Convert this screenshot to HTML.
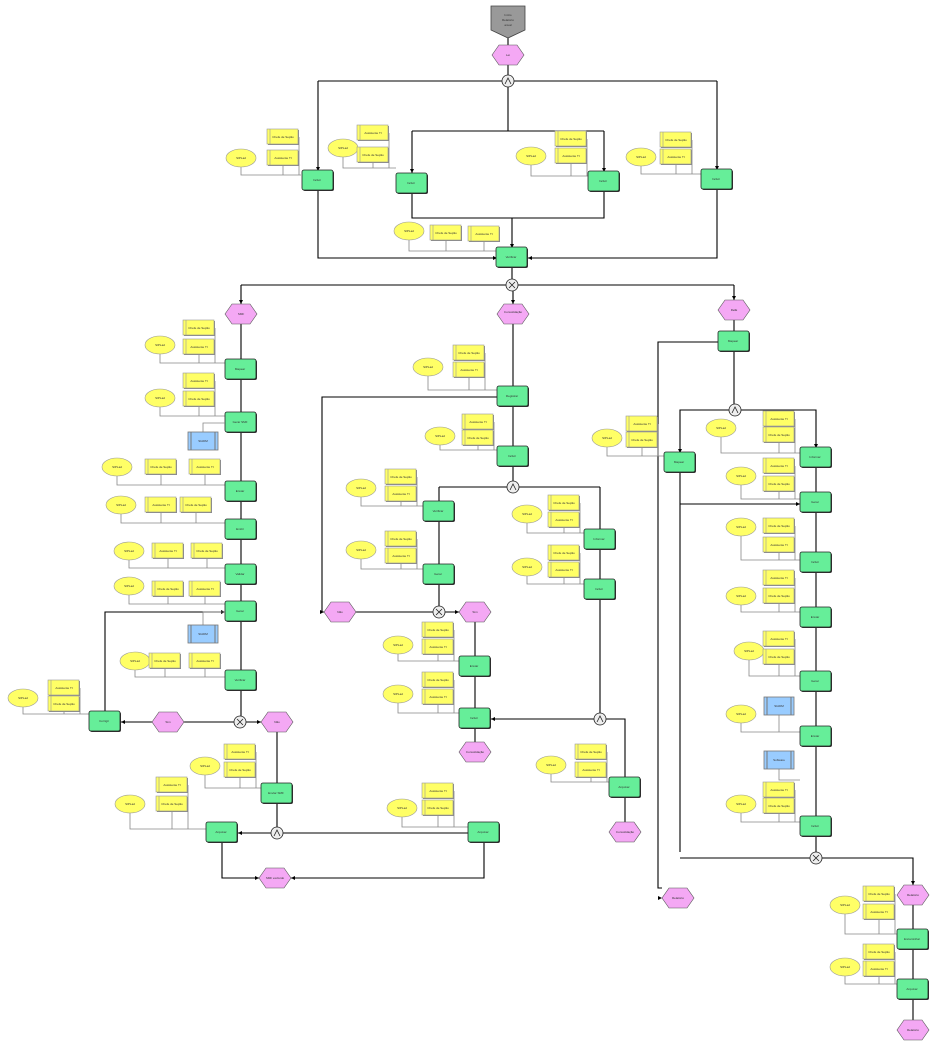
<!DOCTYPE html>
<html><head><meta charset="utf-8"><style>
html,body{margin:0;padding:0;background:#fff;width:939px;height:1049px;overflow:hidden}
svg{display:block}
text{font-family:"Liberation Sans",sans-serif;font-size:3px;fill:#333;text-anchor:middle}
</style></head><body>
<svg width="939" height="1049" viewBox="0 0 939 1049" xmlns="http://www.w3.org/2000/svg">
<defs>
<g id="fn"><rect x="-15" y="-10" width="31" height="20" rx="2" fill="#333"/><rect x="-16" y="-11" width="31" height="20" rx="2" fill="#66ee99" stroke="#222" stroke-width="0.8"/></g>
<g id="ev"><polygon points="-16,0 -9,-10 9,-10 16,0 9,10 -9,10" fill="#f4a8f4" stroke="#555" stroke-width="0.6"/></g>
<g id="ov"><ellipse cx="0" cy="0" rx="15" ry="9" fill="#ffff66" stroke="#999" stroke-width="0.6"/></g>
<g id="dc"><rect x="-15" y="-7" width="31" height="15" fill="#888"/><rect x="-16" y="-8" width="31" height="15" fill="#ffff66" stroke="#999" stroke-width="0.6"/><line x1="-13" y1="-8" x2="-13" y2="7" stroke="#999" stroke-width="0.6"/></g>
<g id="bl"><rect x="-15" y="-9" width="30" height="18" fill="#99ccff" stroke="#777" stroke-width="0.8"/><line x1="-12" y1="-9" x2="-12" y2="9" stroke="#777"/><line x1="12" y1="-9" x2="12" y2="9" stroke="#777"/></g>
<g id="and"><circle r="6" fill="#eee" stroke="#222" stroke-width="0.8"/><path d="M-3,3 L0,-3 L3,3" fill="none" stroke="#222" stroke-width="0.8"/></g>
<g id="xor"><circle r="6" fill="#eee" stroke="#222" stroke-width="0.8"/><path d="M-3,-3 L3,3 M3,-3 L-3,3" fill="none" stroke="#222" stroke-width="0.8"/></g>
</defs>

<!-- control flow -->
<g fill="none" stroke="#000" stroke-width="1.1">
<path d="M508,33 V45 M508,65 V75 M318,81 H717 M318,81 V171 M717,81 V170 M508,87 V131 M412,131 H604 M412,131 V173 M604,131 V172 M412,194 V218 H604 V192 M512,218 V248 M318,191 V258 H497 M717,190 V258 H528 M512,268 V279"/>
<path d="M241,285 H734 M241,285 V304 M513,291 V304 M734,285 V300"/>
<!-- left -->
<path d="M241,324 V360 M241,380 V413 M241,433 V482 M241,502 V520 M241,540 V565 M241,585 V602 M241,622 V671 M241,691 V716 M234,722 H184 M152,722 H121 M246,722 H261 M105,712 V612 H225 M277,732 V784 M277,804 V827 M271,833 H238 M283,833 H468 M222,843 V878 H259 M484,843 V878 H291"/>
<!-- middle -->
<path d="M513,324 V387 M513,407 V447 M513,467 V481 M439,487 H600 M439,487 V502 M600,487 V530 M439,522 V565 M439,585 V606 M433,612 H356 M445,612 H459 M497,397 H322 V612 H324 M475,622 V657 M475,677 V709 M475,729 V742 M600,550 V580 M600,600 V713 M594,719 H491 M606,719 H625 V778 M625,798 V822"/>
<!-- right -->
<path d="M734,320 V332 M734,352 V404 M729,410 H680 V453 M741,410 H816 V448 M718,342 H658 V888 H662 M680,473 V852 M680,504 H800 M816,468 V493 M816,513 V553 M816,573 V608 M816,628 V672 M816,692 V727 M816,747 V817 M816,837 V852 M680,858 H810 M822,858 H913 V885 M913,905 V930 M913,950 V980 M913,1000 V1020"/>
</g>
<!-- arrowheads (small) -->
<g fill="#000">
<path d="M318,171 l-2,-4 h4z M717,170 l-2,-4 h4z M412,173 l-2,-4 h4z M604,172 l-2,-4 h4z M512,248 l-2,-4 h4z M497,258 l-4,-2 v4z M528,258 l4,-2 v4z M241,304 l-2,-4 h4z M513,304 l-2,-4 h4z M734,300 l-2,-4 h4z M121,722 l4,-2 v4z M261,722 l-4,-2 v4z M238,833 l4,-2 v4z M259,878 l-4,-2 v4z M291,878 l4,-2 v4z M225,612 l-4,-2 v4z M324,612 l-4,-2 v4z M459,612 l-4,-2 v4z M491,719 l4,-2 v4z M662,898 l-4,-2 v4z M800,504 l-4,-2 v4z M680,453 l-2,-4 h4z M816,448 l-2,-4 h4z M913,885 l-2,-4 h4z"/>
</g>

<!-- resource links -->
<g fill="none" stroke="#888" stroke-width="0.8">
<path d="M241,167 V175 H301 M283,166 V175 M299,137 V175"/>
<path d="M343,157 V168 H396 M373,163 V168 M389,133 V168"/>
<path d="M531,165 V176 H588 M571,164 V176 M587,139 V176"/>
<path d="M641,166 V174 H701 M676,165 V174 M692,140 V174"/>
<path d="M409,240 V251 H496 M446,241 V251 M484,242 V251"/>
<path d="M160,354 V363 H225 M199,355 V363 M215,328 V363"/>
<path d="M160,407 V416 H225 M199,407 V416 M215,381 V416"/>
<path d="M117,476 V485 H225 M161,475 V485 M205,475 V485"/>
<path d="M121,514 V523 H225 M161,513 V523 M196,513 V523"/>
<path d="M129,560 V568 H225 M168,559 V568 M207,559 V568"/>
<path d="M129,595 V604 H225 M168,597 V604 M205,597 V604"/>
<path d="M135,670 V677 H225 M165,669 V677 M205,669 V677"/>
<path d="M23,707 V714 H89 M64,712 V714 M80,688 V714"/>
<path d="M205,775 V788 H261 M240,778 V788 M256,752 V788"/>
<path d="M130,813 V829 H206 M172,812 V829 M188,785 V829"/>
<path d="M402,817 V827 H468 M438,816 V827 M454,791 V827"/>
<path d="M428,376 V390 H497 M469,378 V390 M485,353 V390"/>
<path d="M440,445 V450 H497 M478,446 V450 M494,422 V450"/>
<path d="M361,497 V506 H423 M401,502 V506 M417,477 V506"/>
<path d="M361,559 V569 H423 M401,564 V569 M417,539 V569"/>
<path d="M398,654 V661 H459 M438,655 V661 M454,630 V661"/>
<path d="M398,703 V713 H459 M438,705 V713 M454,680 V713"/>
<path d="M527,523 V533 H584 M564,528 V533 M580,503 V533"/>
<path d="M527,576 V584 H584 M564,578 V584 M580,553 V584"/>
<path d="M551,774 V782 H609 M591,778 V782 M607,752 V782"/>
<path d="M607,447 V456 H664 M642,448 V456 M658,424 V456"/>
<path d="M721,437 V453 H800 M779,443 V453 M795,419 V453"/>
<path d="M741,485 V499 H800 M779,492 V499 M795,466 V499"/>
<path d="M741,536 V560 H800 M779,553 V560 M795,526 V560"/>
<path d="M741,605 V612 H800 M779,604 V612 M795,578 V612"/>
<path d="M749,660 V676 H800 M779,665 V676 M795,639 V676"/>
<path d="M741,723 V732 H800 M779,715 V732"/>
<path d="M779,769 V780 H800"/>
<path d="M741,813 V822 H800 M779,814 V822 M795,790 V822"/>
<path d="M845,914 V934 H897 M879,920 V934 M895,894 V934"/>
<path d="M845,976 V984 H897 M879,977 V984 M895,952 V984"/>
</g>

<!-- start -->
<polygon points="491,6 525,6 525,30 508,38 491,30" fill="#999" stroke="#444" stroke-width="0.8"/>
<text x="508" y="16">Início</text><text x="508" y="21">Relatório</text><text x="508" y="26">anual</text>

<!-- connectors -->
<use href="#and" x="508" y="81"/>
<use href="#xor" x="512" y="285"/>
<use href="#xor" x="240" y="722"/>
<use href="#and" x="277" y="833"/>
<use href="#and" x="513" y="487"/>
<use href="#xor" x="439" y="612"/>
<use href="#and" x="600" y="719"/>
<use href="#and" x="735" y="410"/>
<use href="#xor" x="816" y="858"/>

<!-- events -->
<g>
<use href="#ev" x="508" y="55"/><text x="508" y="56">Lei</text>
<use href="#ev" x="241" y="314"/><text x="241" y="315">SMF</text>
<use href="#ev" x="513" y="314"/><text x="513" y="313">Consolidação</text>
<use href="#ev" x="734" y="310"/><text x="734" y="311">RelE</text>
<use href="#ev" x="277" y="722"/><text x="277" y="723">Não</text>
<use href="#ev" x="168" y="722"/><text x="168" y="723">Sim</text>
<use href="#ev" x="275" y="878"/><text x="275" y="879">SMF excluído</text>
<use href="#ev" x="340" y="612"/><text x="340" y="613">Não</text>
<use href="#ev" x="475" y="612"/><text x="475" y="613">Sim</text>
<use href="#ev" x="475" y="752"/><text x="475" y="753">Consolidação</text>
<use href="#ev" x="625" y="832"/><text x="625" y="833">Consolidação</text>
<use href="#ev" x="678" y="898"/><text x="678" y="899">Relatório</text>
<use href="#ev" x="913" y="895"/><text x="913" y="896">Relatório</text>
<use href="#ev" x="913" y="1030"/><text x="913" y="1031">Relatório</text>
</g>

<!-- functions -->
<g>
<use href="#fn" x="318" y="181"/><use href="#fn" x="412" y="184"/><use href="#fn" x="604" y="182"/><use href="#fn" x="717" y="180"/><use href="#fn" x="512" y="258"/>
<use href="#fn" x="241" y="370"/><use href="#fn" x="241" y="423"/><use href="#fn" x="241" y="492"/><use href="#fn" x="241" y="530"/><use href="#fn" x="241" y="575"/><use href="#fn" x="241" y="612"/><use href="#fn" x="241" y="681"/><use href="#fn" x="105" y="722"/><use href="#fn" x="277" y="794"/><use href="#fn" x="222" y="833"/><use href="#fn" x="484" y="833"/>
<use href="#fn" x="513" y="397"/><use href="#fn" x="513" y="457"/><use href="#fn" x="439" y="512"/><use href="#fn" x="439" y="575"/><use href="#fn" x="475" y="667"/><use href="#fn" x="475" y="719"/><use href="#fn" x="600" y="540"/><use href="#fn" x="600" y="590"/><use href="#fn" x="625" y="788"/>
<use href="#fn" x="734" y="342"/><use href="#fn" x="680" y="463"/><use href="#fn" x="816" y="458"/><use href="#fn" x="816" y="503"/><use href="#fn" x="816" y="563"/><use href="#fn" x="816" y="618"/><use href="#fn" x="816" y="682"/><use href="#fn" x="816" y="737"/><use href="#fn" x="816" y="827"/><use href="#fn" x="913" y="940"/><use href="#fn" x="913" y="990"/>
</g>
<g>
<text x="317" y="181">Incluir</text><text x="411" y="184">Incluir</text><text x="603" y="182">Incluir</text><text x="716" y="180">Incluir</text><text x="511" y="258">Verificar</text>
<text x="240" y="370">Mapear</text><text x="240" y="423">Gerar SMF</text><text x="240" y="492">Enviar</text><text x="240" y="530">Emitir</text><text x="240" y="575">Validar</text><text x="240" y="612">Gerar</text><text x="240" y="681">Verificar</text><text x="104" y="722">Corrigir</text><text x="276" y="794">Enviar SMF</text><text x="221" y="833">Arquivar</text><text x="483" y="833">Arquivar</text>
<text x="512" y="397">Registrar</text><text x="512" y="457">Incluir</text><text x="438" y="512">Verificar</text><text x="438" y="575">Gerar</text><text x="474" y="667">Enviar</text><text x="474" y="719">Incluir</text><text x="599" y="540">Informar</text><text x="599" y="590">Incluir</text><text x="624" y="788">Arquivar</text>
<text x="733" y="342">Mapear</text><text x="679" y="463">Mapear</text><text x="815" y="458">Informar</text><text x="815" y="503">Gerar</text><text x="815" y="563">Incluir</text><text x="815" y="618">Enviar</text><text x="815" y="682">Gerar</text><text x="815" y="737">Enviar</text><text x="815" y="827">Incluir</text><text x="912" y="940">Encaminhar</text><text x="912" y="990">Arquivar</text>
</g>

<!-- ovals -->
<g>
<use href="#ov" x="241" y="158"/><use href="#ov" x="343" y="148"/><use href="#ov" x="531" y="156"/><use href="#ov" x="641" y="157"/><use href="#ov" x="409" y="231"/>
<use href="#ov" x="160" y="345"/><use href="#ov" x="160" y="398"/><use href="#ov" x="117" y="467"/><use href="#ov" x="121" y="505"/><use href="#ov" x="129" y="551"/><use href="#ov" x="129" y="586"/><use href="#ov" x="135" y="661"/><use href="#ov" x="23" y="698"/><use href="#ov" x="205" y="766"/><use href="#ov" x="130" y="804"/><use href="#ov" x="402" y="808"/>
<use href="#ov" x="428" y="367"/><use href="#ov" x="440" y="436"/><use href="#ov" x="361" y="488"/><use href="#ov" x="361" y="550"/><use href="#ov" x="398" y="645"/><use href="#ov" x="398" y="694"/><use href="#ov" x="527" y="514"/><use href="#ov" x="527" y="567"/><use href="#ov" x="551" y="765"/>
<use href="#ov" x="607" y="438"/><use href="#ov" x="721" y="428"/><use href="#ov" x="741" y="476"/><use href="#ov" x="741" y="527"/><use href="#ov" x="741" y="596"/><use href="#ov" x="749" y="651"/><use href="#ov" x="741" y="714"/><use href="#ov" x="741" y="804"/><use href="#ov" x="845" y="905"/><use href="#ov" x="845" y="967"/>
</g>
<g>
<text x="241" y="159">SIPLad</text><text x="343" y="149">SIPLad</text><text x="531" y="157">SIPLad</text><text x="641" y="158">SIPLad</text><text x="409" y="232">SIPLad</text>
<text x="160" y="346">SIPLad</text><text x="160" y="399">SIPLad</text><text x="117" y="468">SIPLad</text><text x="121" y="506">SIPLad</text><text x="129" y="552">SIPLad</text><text x="129" y="587">SIPLad</text><text x="135" y="662">SIPLad</text><text x="23" y="699">SIPLad</text><text x="205" y="767">SIPLad</text><text x="130" y="805">SIPLad</text><text x="402" y="809">SIPLad</text>
<text x="428" y="368">SIPLad</text><text x="440" y="437">SIPLad</text><text x="361" y="489">SIPLad</text><text x="361" y="551">SIPLad</text><text x="398" y="646">SIPLad</text><text x="398" y="695">SIPLad</text><text x="527" y="515">SIPLad</text><text x="527" y="568">SIPLad</text><text x="551" y="766">SIPLad</text>
<text x="607" y="439">SIPLad</text><text x="721" y="429">SIPLad</text><text x="741" y="477">SIPLad</text><text x="741" y="528">SIPLad</text><text x="741" y="597">SIPLad</text><text x="749" y="652">SIPLad</text><text x="741" y="715">SIPLad</text><text x="741" y="805">SIPLad</text><text x="845" y="906">SIPLad</text><text x="845" y="968">SIPLad</text>
</g>

<!-- docs -->
<g>
<use href="#dc" x="283" y="137"/><use href="#dc" x="283" y="158"/>
<use href="#dc" x="373" y="133"/><use href="#dc" x="373" y="155"/>
<use href="#dc" x="571" y="139"/><use href="#dc" x="571" y="156"/>
<use href="#dc" x="676" y="140"/><use href="#dc" x="676" y="157"/>
<use href="#dc" x="446" y="233"/><use href="#dc" x="484" y="234"/>
<use href="#dc" x="199" y="328"/><use href="#dc" x="199" y="347"/>
<use href="#dc" x="199" y="381"/><use href="#dc" x="199" y="399"/>
<use href="#dc" x="161" y="467"/><use href="#dc" x="205" y="467"/>
<use href="#dc" x="161" y="505"/><use href="#dc" x="196" y="505"/>
<use href="#dc" x="168" y="551"/><use href="#dc" x="207" y="551"/>
<use href="#dc" x="168" y="589"/><use href="#dc" x="205" y="589"/>
<use href="#dc" x="165" y="661"/><use href="#dc" x="205" y="661"/>
<use href="#dc" x="64" y="688"/><use href="#dc" x="64" y="704"/>
<use href="#dc" x="240" y="752"/><use href="#dc" x="240" y="770"/>
<use href="#dc" x="172" y="785"/><use href="#dc" x="172" y="804"/>
<use href="#dc" x="438" y="791"/><use href="#dc" x="438" y="808"/>
<use href="#dc" x="469" y="353"/><use href="#dc" x="469" y="370"/>
<use href="#dc" x="478" y="422"/><use href="#dc" x="478" y="438"/>
<use href="#dc" x="401" y="477"/><use href="#dc" x="401" y="494"/>
<use href="#dc" x="401" y="539"/><use href="#dc" x="401" y="556"/>
<use href="#dc" x="438" y="630"/><use href="#dc" x="438" y="647"/>
<use href="#dc" x="438" y="680"/><use href="#dc" x="438" y="697"/>
<use href="#dc" x="564" y="503"/><use href="#dc" x="564" y="520"/>
<use href="#dc" x="564" y="553"/><use href="#dc" x="564" y="570"/>
<use href="#dc" x="591" y="752"/><use href="#dc" x="591" y="770"/>
<use href="#dc" x="642" y="424"/><use href="#dc" x="642" y="440"/>
<use href="#dc" x="779" y="419"/><use href="#dc" x="779" y="435"/>
<use href="#dc" x="779" y="466"/><use href="#dc" x="779" y="484"/>
<use href="#dc" x="779" y="526"/><use href="#dc" x="779" y="545"/>
<use href="#dc" x="779" y="578"/><use href="#dc" x="779" y="596"/>
<use href="#dc" x="779" y="639"/><use href="#dc" x="779" y="657"/>
<use href="#dc" x="779" y="790"/><use href="#dc" x="779" y="806"/>
<use href="#dc" x="879" y="894"/><use href="#dc" x="879" y="912"/>
<use href="#dc" x="879" y="952"/><use href="#dc" x="879" y="969"/>
</g>
<g>
<text x="283" y="138">Chefe de Seção</text><text x="283" y="159">Assistente TI</text>
<text x="373" y="134">Assistente TI</text><text x="373" y="156">Chefe de Seção</text>
<text x="571" y="140">Chefe de Seção</text><text x="571" y="157">Assistente TI</text>
<text x="676" y="141">Chefe de Seção</text><text x="676" y="158">Assistente TI</text>
<text x="446" y="234">Chefe de Seção</text><text x="484" y="235">Assistente TI</text>
<text x="199" y="329">Chefe de Seção</text><text x="199" y="348">Assistente TI</text>
<text x="199" y="382">Assistente TI</text><text x="199" y="400">Chefe de Seção</text>
<text x="161" y="468">Chefe de Seção</text><text x="205" y="468">Assistente TI</text>
<text x="161" y="506">Assistente TI</text><text x="196" y="506">Chefe de Seção</text>
<text x="168" y="552">Assistente TI</text><text x="207" y="552">Chefe de Seção</text>
<text x="168" y="590">Chefe de Seção</text><text x="205" y="590">Assistente TI</text>
<text x="165" y="662">Chefe de Seção</text><text x="205" y="662">Assistente TI</text>
<text x="64" y="689">Assistente TI</text><text x="64" y="705">Chefe de Seção</text>
<text x="240" y="753">Assistente TI</text><text x="240" y="771">Chefe de Seção</text>
<text x="172" y="786">Assistente TI</text><text x="172" y="805">Chefe de Seção</text>
<text x="438" y="792">Assistente TI</text><text x="438" y="809">Chefe de Seção</text>
<text x="469" y="354">Chefe de Seção</text><text x="469" y="371">Assistente TI</text>
<text x="478" y="423">Assistente TI</text><text x="478" y="439">Chefe de Seção</text>
<text x="401" y="478">Chefe de Seção</text><text x="401" y="495">Assistente TI</text>
<text x="401" y="540">Chefe de Seção</text><text x="401" y="557">Assistente TI</text>
<text x="438" y="631">Chefe de Seção</text><text x="438" y="648">Assistente TI</text>
<text x="438" y="681">Chefe de Seção</text><text x="438" y="698">Assistente TI</text>
<text x="564" y="504">Chefe de Seção</text><text x="564" y="521">Assistente TI</text>
<text x="564" y="554">Chefe de Seção</text><text x="564" y="571">Assistente TI</text>
<text x="591" y="753">Chefe de Seção</text><text x="591" y="771">Assistente TI</text>
<text x="642" y="425">Assistente TI</text><text x="642" y="441">Chefe de Seção</text>
<text x="779" y="420">Assistente TI</text><text x="779" y="436">Chefe de Seção</text>
<text x="779" y="467">Assistente TI</text><text x="779" y="485">Chefe de Seção</text>
<text x="779" y="527">Chefe de Seção</text><text x="779" y="546">Assistente TI</text>
<text x="779" y="579">Assistente TI</text><text x="779" y="597">Chefe de Seção</text>
<text x="779" y="640">Assistente TI</text><text x="779" y="658">Chefe de Seção</text>
<text x="779" y="791">Assistente TI</text><text x="779" y="807">Chefe de Seção</text>
<text x="879" y="895">Chefe de Seção</text><text x="879" y="913">Assistente TI</text>
<text x="879" y="953">Chefe de Seção</text><text x="879" y="970">Assistente TI</text>
</g>

<!-- blue systems -->
<path d="M203,432 V423 H225 M203,625 V612 H225" fill="none" stroke="#888" stroke-width="0.8"/>
<use href="#bl" x="203" y="441"/><text x="203" y="442">SIADM</text>
<use href="#bl" x="203" y="634"/><text x="203" y="635">SIADM</text>
<use href="#bl" x="779" y="706"/><text x="779" y="707">SIADM</text>
<use href="#bl" x="779" y="760"/><text x="779" y="761">Software</text>
</svg>
</body></html>
